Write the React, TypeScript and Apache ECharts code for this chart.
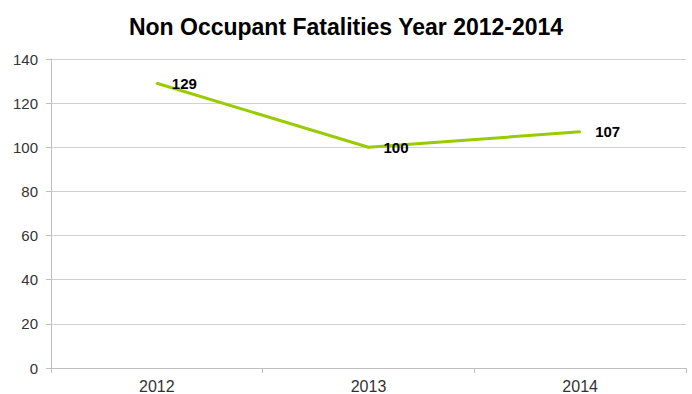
import React, { useEffect, useRef } from "react";
import * as echarts from "echarts";

const categories = ["2012", "2013", "2014"];
const fatalities = [129, 100, 107];
const titleText = "Non Occupant Fatalities Year 2012-2014";

export default function App() {
  const ref = useRef<HTMLDivElement>(null);
  useEffect(() => {
    if (!ref.current) return;
    const chart = echarts.init(ref.current, null, { renderer: "svg" });
    chart.setOption({
      animation: false,
      backgroundColor: "#ffffff",
      title: {
        text: titleText,
        left: "center",
        top: 10,
        textStyle: {
          fontFamily: "Liberation Sans, Arial, sans-serif",
          fontWeight: "bold",
          fontSize: 23,
          color: "#000000",
        },
      },
      grid: { left: 51, right: 6, top: 59, bottom: 25, containLabel: false },
      xAxis: {
        type: "category",
        data: categories,
        boundaryGap: true,
        axisLine: { lineStyle: { color: "#bfbfbf", width: 1 } },
        axisTick: { show: true, length: 5, lineStyle: { color: "#bfbfbf" } },
        axisLabel: {
          fontFamily: "Liberation Sans, Arial, sans-serif",
          fontSize: 16,
          color: "#333333",
          margin: 10,
        },
      },
      yAxis: {
        type: "value",
        min: 0,
        max: 140,
        interval: 20,
        axisLine: { show: true, lineStyle: { color: "#bfbfbf", width: 1 } },
        axisTick: { show: true, length: 5, lineStyle: { color: "#bfbfbf" } },
        splitLine: { lineStyle: { color: "#d0d0d0", width: 1 } },
        axisLabel: {
          fontFamily: "Liberation Sans, Arial, sans-serif",
          fontSize: 15,
          color: "#333333",
          margin: 13,
        },
      },
      series: [
        {
          type: "line",
          data: fatalities,
          symbol: "circle",
          symbolSize: 2,
          showSymbol: true,
          lineStyle: { color: "#99cc00", width: 3 },
          itemStyle: { color: "#99cc00" },
          label: {
            show: true,
            position: "right",
            distance: 14,
            fontFamily: "Liberation Sans, Arial, sans-serif",
            fontWeight: "bold",
            fontSize: 15,
            color: "#000000",
          },
        },
      ],
    });
    return () => chart.dispose();
  }, []);
  return <div ref={ref} style={{ width: 692, height: 394, position: "absolute", left: 0, top: 0 }} />;
}
